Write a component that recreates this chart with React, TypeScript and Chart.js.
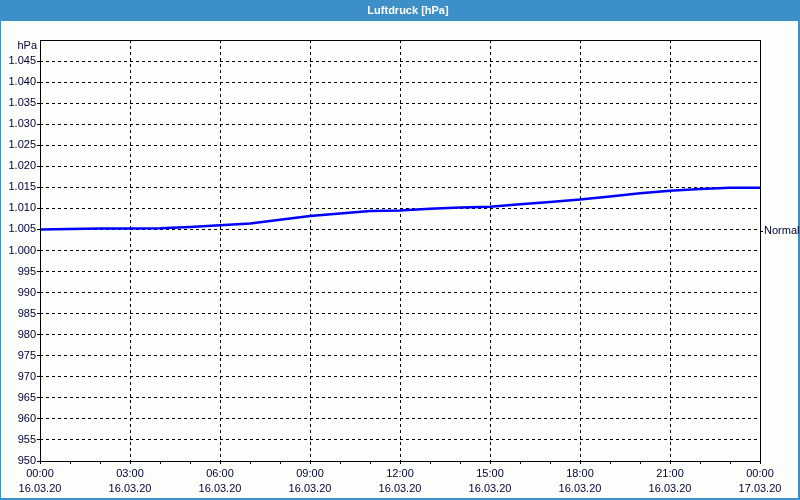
import React, { useEffect, useRef } from "react";
import { Chart, registerables } from "chart.js";

Chart.register(...registerables);

const TITLE = "Luftdruck [hPa]";
const DATE_START = "16.03.20";
const DATE_END = "17.03.20";
const hours = [0, 1, 2, 3, 4, 5, 6, 7, 8, 9, 10, 11, 12, 13, 14, 15, 16, 17, 18, 19, 20, 21, 22, 23, 24];
const pressure = [
  1005.0, 1005.1, 1005.2, 1005.2, 1005.3, 1005.6, 1006.0, 1006.4, 1007.3, 1008.2,
  1008.8, 1009.4, 1009.5, 1009.9, 1010.2, 1010.4, 1011.0, 1011.5, 1012.1, 1012.8,
  1013.6, 1014.2, 1014.6, 1014.9, 1014.9,
];
const Y_MIN = 950;
const Y_MAX = 1050;
const Y_STEP = 5;
const NORMAL_VALUE = 1004.6;
const NORMAL_LABEL = "Normal";
const UNIT_LABEL = "hPa";

const FONT = "'Liberation Sans', Arial, sans-serif";
const TEXT_COLOR = "#000033";
const BLUE = "#3d8fc7";

function fmtY(v: number): string {
  if (v >= 1000) return "1." + String(Math.round(v - 1000)).padStart(3, "0");
  return String(Math.round(v));
}

function fmtX(v: number): string[] | string {
  if (v % 3 !== 0) return "";
  const h = v % 24;
  const hh = String(h).padStart(2, "0") + ":00";
  return [hh, v >= 24 ? DATE_END : DATE_START];
}

const framePlugin = {
  id: "frame",
  beforeDraw(chart: any) {
    const { ctx, width, height } = chart;
    ctx.save();
    ctx.fillStyle = "#fcfefc";
    ctx.fillRect(0, 0, width, height);
    ctx.fillStyle = BLUE;
    ctx.fillRect(0, 0, width, 21);
    ctx.fillRect(0, 0, 1, height);
    ctx.fillRect(width - 2, 0, 2, height);
    ctx.fillRect(0, height - 2, width, 2);
    ctx.fillStyle = "#ffffff";
    ctx.font = "bold 11px " + FONT;
    ctx.textAlign = "center";
    ctx.textBaseline = "middle";
    ctx.fillText(TITLE, width / 2 + 8, 10.5);
    ctx.restore();
  },
  afterDraw(chart: any) {
    const { ctx, chartArea } = chart;
    const { left, top, right, bottom } = chartArea;
    ctx.save();
    ctx.strokeStyle = "#000000";
    ctx.lineWidth = 1;
    ctx.strokeRect(Math.round(left) + 0.5, Math.round(top) + 0.5, Math.round(right - left), Math.round(bottom - top));
    ctx.fillStyle = TEXT_COLOR;
    ctx.font = "11px " + FONT;
    ctx.textAlign = "right";
    ctx.textBaseline = "middle";
    ctx.fillText(UNIT_LABEL, left - 3, top + 6);
    ctx.restore();
  },
};

export default function App() {
  const ref = useRef<HTMLCanvasElement | null>(null);
  useEffect(() => {
    if (!ref.current) return;
    const data = hours.map((h, i) => ({ x: h, y: pressure[i] }));
    const chart = new Chart(ref.current, {
      type: "line",
      data: {
        datasets: [
          {
            data,
            borderColor: "#0000ff",
            borderWidth: 2.5,
            pointRadius: 0,
            tension: 0,
            fill: false,
          },
        ],
      },
      options: {
        animation: false,
        responsive: false,
        maintainAspectRatio: false,
        layout: { padding: { top: 40, left: 0, right: 0, bottom: 0 } },
        plugins: { legend: { display: false }, tooltip: { enabled: false }, title: { display: false } },
        scales: {
          x: {
            type: "linear",
            min: 0,
            max: 24,
            afterBuildTicks(scale: any) {
              scale.ticks = hours.map((h) => ({ value: h }));
            },
            afterFit(scale: any) {
              scale.height = 39;
            },
            ticks: {
              autoSkip: false,
              maxRotation: 0,
              minRotation: 0,
              padding: 3,
              color: TEXT_COLOR,
              font: { family: FONT, size: 11, lineHeight: 1.35 },
              callback: (v: any) => fmtX(Number(v)),
            },
            grid: {
              color: (c: any) => (c.tick && c.tick.value % 3 === 0 ? "#000000" : "rgba(0,0,0,0)"),
              tickColor: "#000000",
              tickLength: 3,
              lineWidth: 1,
              tickBorderDash: [],
            },
            border: { display: false, dash: [3, 3] },
          },
          y: {
            position: "left",
            min: Y_MIN,
            max: Y_MAX,
            afterFit(scale: any) {
              scale.width = 40;
            },
            ticks: {
              stepSize: Y_STEP,
              autoSkip: false,
              padding: 1,
              color: TEXT_COLOR,
              font: { family: FONT, size: 11 },
              callback: (v: any) => (Number(v) >= Y_MAX ? "" : fmtY(Number(v))),
            },
            grid: {
              color: "#000000",
              tickColor: (c: any) => (c.tick && c.tick.value >= Y_MAX ? "rgba(0,0,0,0)" : "#000000"),
              tickLength: 3,
              lineWidth: 1,
              tickBorderDash: [],
            },
            border: { display: false, dash: [3, 3] },
          },
          y2: {
            position: "right",
            min: Y_MIN,
            max: Y_MAX,
            afterBuildTicks(scale: any) {
              scale.ticks = [{ value: NORMAL_VALUE }];
            },
            afterFit(scale: any) {
              scale.width = 40;
            },
            ticks: {
              autoSkip: false,
              padding: 1,
              color: TEXT_COLOR,
              font: { family: FONT, size: 11 },
              callback: () => NORMAL_LABEL,
            },
            grid: {
              drawOnChartArea: false,
              tickColor: "#000000",
              tickLength: 3,
            },
            border: { display: false },
          },
        },
      },
      plugins: [framePlugin],
    } as any);
    return () => chart.destroy();
  }, []);
  return (
    <div style={{ position: "fixed", left: 0, top: 0, width: 800, height: 500 }}>
      <canvas ref={ref} width={800} height={500} />
    </div>
  );
}
